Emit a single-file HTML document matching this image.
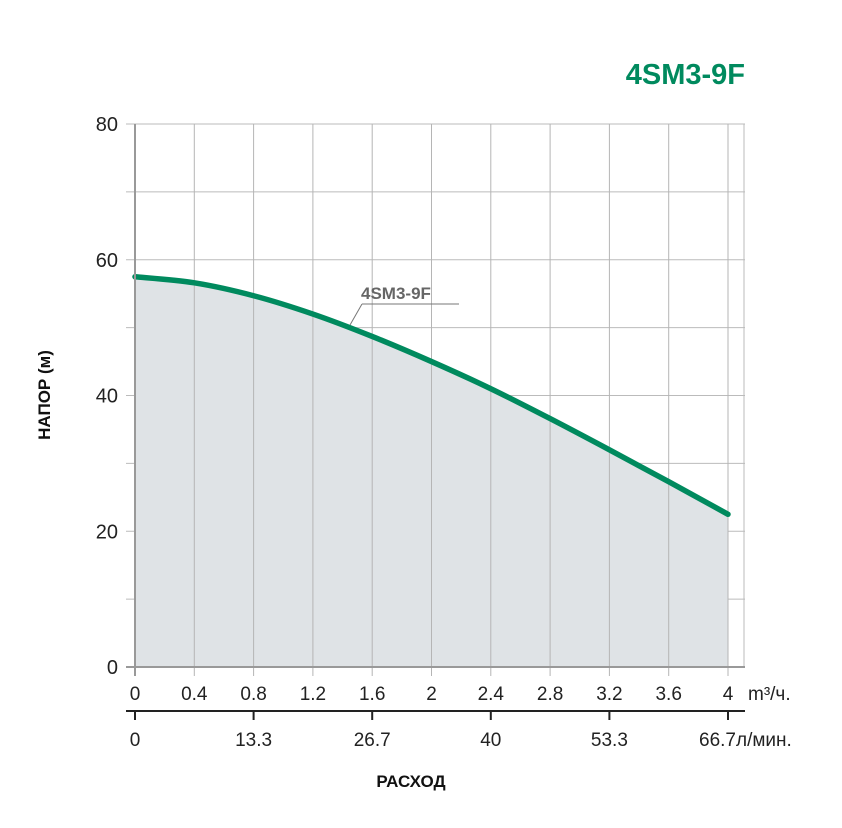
<!DOCTYPE html>
<html><head><meta charset="utf-8"><style>
body{margin:0;background:#fff;width:842px;height:828px;overflow:hidden}
svg{display:block;font-family:"Liberation Sans",sans-serif}
</style></head><body>
<svg id="c" width="842" height="828" viewBox="0 0 842 828">
<text x="745" y="84" text-anchor="end" font-size="29" font-weight="bold" fill="#008a5e">4SM3-9F</text>
<g id="grid"></g>
<path id="area" fill="#dfe3e6"/>
<g id="gridv"></g>
<path id="curve" fill="none" stroke="#008a5e" stroke-width="5.5" stroke-linecap="round"/>
<g id="axes"></g>
<text transform="translate(50,395) rotate(-90)" text-anchor="middle" font-size="17" font-weight="bold" fill="#111">НАПОР (м)</text>
<text x="411" y="787" text-anchor="middle" font-size="17" font-weight="bold" fill="#111">РАСХОД</text>
<line x1="350" y1="325" x2="362" y2="304" stroke="#777" stroke-width="1"/>
<line x1="362" y1="304" x2="459" y2="304" stroke="#777" stroke-width="1"/>
<text x="361" y="299" font-size="17" font-weight="bold" fill="#666">4SM3-9F</text>
</svg>
<script>
const flowM3 = [0, 0.4, 0.8, 1.2, 1.6, 2, 2.4, 2.8, 3.2, 3.6, 4];
const headM = [57.5, 56.6, 54.7, 52.0, 48.7, 45.0, 41.0, 36.6, 32.0, 27.3, 22.5];
const xTicks = ["0","0.4","0.8","1.2","1.6","2","2.4","2.8","3.2","3.6","4"];
const yTicks = [0, 20, 40, 60, 80];
const lpmTicks = ["0","13.3","26.7","40","53.3","66.7"];
const NS="http://www.w3.org/2000/svg";
const X=v=>135+v*(728-135)/4, Y=v=>667-v*(667-124)/80;
const svg=document.getElementById('c');
function mk(p,t,a){const e=document.createElementNS(NS,t);for(const k in a)e.setAttribute(k,a[k]);p.appendChild(e);return e;}
const grid=document.getElementById('grid'), gv=document.getElementById('gridv'), ax=document.getElementById('axes');
for(let v=10;v<=80;v+=10){
 const l=mk(grid,'line',{x1:126,x2:745,y1:Y(v),y2:Y(v),stroke:'#bbb','stroke-width':1});
 
 
}
for(let i=1;i<xTicks.length;i++){
 const l=mk(gv,'line',{x1:X(i*0.4),x2:X(i*0.4),y1:124,y2:676,stroke:'#b5b5b5','stroke-width':1});
 
 
}
const lv=mk(gv,'line',{x1:744,x2:744,y1:124,y2:667,stroke:'#bbb','stroke-width':1});


const y0=mk(ax,'line',{x1:135,x2:135,y1:124,y2:676,stroke:'#999','stroke-width':2});


const x0=mk(ax,'line',{x1:126,x2:745,y1:667,y2:667,stroke:'#999','stroke-width':2});


yTicks.forEach(v=>{
 const t=mk(ax,'text',{x:118,y:Y(v)+7,'text-anchor':'end','font-size':20,fill:'#222'});
 t.textContent=v;
 
 
});
xTicks.forEach((s,i)=>{
 const t=mk(ax,'text',{x:X(flowM3[i]),y:700,'text-anchor':'middle','font-size':19,fill:'#222'});
 t.textContent=s;
 
 
});
const u1=mk(ax,'text',{x:748,y:700,'font-size':19,fill:'#222'});u1.textContent='m³/ч.';


const sl=mk(ax,'line',{x1:126,x2:745,y1:711,y2:711,stroke:'#222','stroke-width':2});


lpmTicks.forEach((s,i)=>{
 const x=X(i*0.8);
 const tk=mk(ax,'line',{x1:x,x2:x,y1:711,y2:720,stroke:'#222','stroke-width':2});
 
 
 const t=mk(ax,'text',{x:i==5?x+8:x,y:746,'text-anchor':i==5?'end':'middle','font-size':19,fill:'#222'});
 t.textContent=s;
 
 
});
const u2=mk(ax,'text',{x:736,y:746,'font-size':19,fill:'#222'});u2.textContent='л/мин.';


// smooth curve via Catmull-Rom
const P=flowM3.map((f,i)=>[X(f),Y(headM[i])]);
let d=`M${P[0][0]},${P[0][1]}`;
for(let i=0;i<P.length-1;i++){
 const p0=P[i-1]||P[i],p1=P[i],p2=P[i+1],p3=P[i+2]||P[i+1];
 d+=` C${p1[0]+(p2[0]-p0[0])/6},${p1[1]+(p2[1]-p0[1])/6} ${p2[0]-(p3[0]-p1[0])/6},${p2[1]-(p3[1]-p1[1])/6} ${p2[0]},${p2[1]}`;
}
document.getElementById('curve').setAttribute('d',d);
document.getElementById('area').setAttribute('d',d+` L${P[P.length-1][0]},${Y(0)} L${P[0][0]},${Y(0)} Z`);
</script>
</body></html>
